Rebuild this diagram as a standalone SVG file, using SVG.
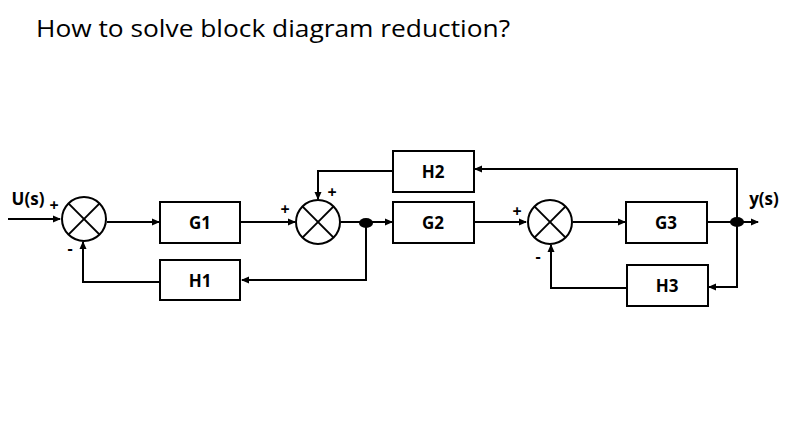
<svg xmlns="http://www.w3.org/2000/svg" width="793" height="445" viewBox="0 0 793 445">
<defs>
<marker id="arr" markerWidth="8" markerHeight="8" refX="7" refY="4" orient="auto" markerUnits="userSpaceOnUse">
<path d="M0,0.5 L8,4 L0,7.5 Z" fill="#000"/>
</marker>
</defs>
<style>
.box{fill:#fff;stroke:#000;stroke-width:2}
.sum{fill:#fff;stroke:#000;stroke-width:2}
.x{stroke:#000;stroke-width:2}
.lbl{font-family:"Open Sans","Liberation Sans",sans-serif;font-weight:bold;font-size:17px;fill:#000;text-anchor:middle}
.sign{font-family:"Open Sans","Liberation Sans",sans-serif;font-weight:bold;font-size:16px;fill:#000;text-anchor:middle}
.wire{fill:none;stroke:#000;stroke-width:2}
.title{font-family:"Open Sans","Noto Sans","Liberation Sans",sans-serif;font-size:24px;fill:#000}
</style>
<rect width="793" height="445" fill="#fff"/>
<text class="title" x="36" y="37" textLength="474" lengthAdjust="spacingAndGlyphs">How to solve block diagram reduction?</text>

<g id="connectors">
<path class="wire" d="M8,219 H60" marker-end="url(#arr)"/>
<path class="wire" d="M107,222 H159" marker-end="url(#arr)"/>
<path class="wire" d="M241,222 H295" marker-end="url(#arr)"/>
<path class="wire" d="M341,222 H392" marker-end="url(#arr)"/>
<path class="wire" d="M366,222 V280 H242" marker-end="url(#arr)"/>
<path class="wire" d="M159,282 H83 V242" marker-end="url(#arr)"/>
<path class="wire" d="M393,171 H318 V199" marker-end="url(#arr)"/>
<path class="wire" d="M474,222 H526" marker-end="url(#arr)"/>
<path class="wire" d="M573,222 H625" marker-end="url(#arr)"/>
<path class="wire" d="M707,222 H758" marker-end="url(#arr)"/>
<path class="wire" d="M737,222 V169 H475" marker-end="url(#arr)"/>
<path class="wire" d="M737,222 V287 H709" marker-end="url(#arr)"/>
<path class="wire" d="M627,288 H551 V245" marker-end="url(#arr)"/>
<ellipse cx="366" cy="223" rx="7" ry="5" fill="#000"/>
<ellipse cx="737" cy="222" rx="7" ry="5" fill="#000"/>
</g>

<g id="sum1">
<circle class="sum" cx="84" cy="219" r="22"/>
<line class="x" x1="68.4" y1="203.4" x2="99.6" y2="234.6"/>
<line class="x" x1="99.6" y1="203.4" x2="68.4" y2="234.6"/>
</g>
<g id="sum2">
<circle class="sum" cx="318" cy="222" r="22"/>
<line class="x" x1="302.4" y1="206.4" x2="333.6" y2="237.6"/>
<line class="x" x1="333.6" y1="206.4" x2="302.4" y2="237.6"/>
</g>
<g id="sum3">
<circle class="sum" cx="550" cy="222" r="22"/>
<line class="x" x1="534.4" y1="206.4" x2="565.6" y2="237.6"/>
<line class="x" x1="565.6" y1="206.4" x2="534.4" y2="237.6"/>
</g>

<g id="G1"><rect class="box" x="160" y="202" width="80" height="41"/><text class="lbl" x="200" y="229">G1</text></g>
<g id="H1"><rect class="box" x="160" y="260" width="80" height="40"/><text class="lbl" x="200" y="287">H1</text></g>
<g id="H2"><rect class="box" x="393" y="151" width="81" height="41"/><text class="lbl" x="433" y="178">H2</text></g>
<g id="G2"><rect class="box" x="393" y="202" width="81" height="41"/><text class="lbl" x="433" y="229">G2</text></g>
<g id="G3"><rect class="box" x="626" y="202" width="81" height="41"/><text class="lbl" x="666" y="229">G3</text></g>
<g id="H3"><rect class="box" x="627" y="265" width="81" height="41"/><text class="lbl" x="667" y="292">H3</text></g>

<g id="labels">
<text class="lbl" x="28" y="205">U(s)</text>
<text class="lbl" x="764" y="205">y(s)</text>
<text class="sign" x="54" y="211">+</text>
<text class="sign" x="70" y="254">-</text>
<text class="sign" x="285" y="215">+</text>
<text class="sign" x="332" y="198">+</text>
<text class="sign" x="517" y="217">+</text>
<text class="sign" x="538" y="262">-</text>
</g>
</svg>
